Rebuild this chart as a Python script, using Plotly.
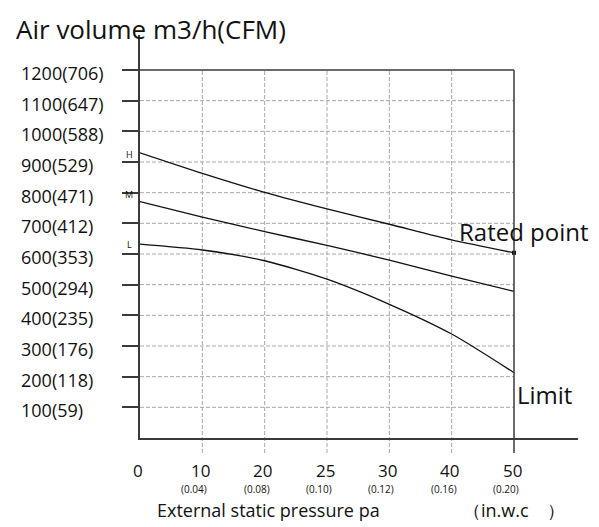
import plotly.graph_objects as go

# ---------------- data ----------------
pressure_pa = ["0", "10", "20", "25", "30", "40", "50"]
pressure_inwc = ["", "(0.04)", "(0.08)", "(0.10)", "(0.12)", "(0.16)", "(0.20)"]
airflow_ticks = [100, 200, 300, 400, 500, 600, 700, 800, 900, 1000, 1100, 1200]
airflow_labels = ["100(59)", "200(118)", "300(176)", "400(235)", "500(294)", "600(353)",
                  "700(412)", "800(471)", "900(529)", "1000(588)", "1100(647)", "1200(706)"]
curve_H = [930, 863, 801, 747, 697, 646, 604]
curve_M = [771, 720, 673, 628, 580, 528, 478]
curve_L = [632, 613, 578, 518, 436, 339, 213]
curve_names = ["H", "M", "L"]
rated_label = "Rated point"
limit_label = "Limit"
y_title = "Air volume m3/h(CFM)"
x_title = "External static pressure pa"
x_unit = "（in.w.c　）"

# ---------------- layout constants ----------------
W, H = 599, 527
ML, MR, MT, MB = 140, 21, 35, 89
PW, PH = W - ML - MR, H - MT - MB
FONT = "Open Sans, Noto Sans, sans-serif"
AXC = "#3a3a3a"
GRIDC = "#a8a8a8"
DASH = "4px,2px"

xs = list(range(len(pressure_pa)))
x_last = xs[-1]
y_top = airflow_ticks[-1]
x_max = x_last * PW / 374.0
y_max = y_top * PH / 368.0
ext = -15.0 / PH  # extension below x axis (paper)

fig = go.Figure()

curves = [curve_H, curve_M, curve_L]
for name, vals in zip(curve_names, curves):
    fig.add_trace(go.Scatter(x=xs, y=vals, mode="lines", name=name,
                             line=dict(color="#111111", width=1.3, shape="spline", smoothing=0.7),
                             showlegend=False, hoverinfo="skip"))

# rated point marker
fig.add_trace(go.Scatter(x=[xs[-1]], y=[curve_H[-1]], mode="markers",
                         marker=dict(color="#111111", size=4, symbol="square"),
                         showlegend=False, hoverinfo="skip"))

shapes = []
# horizontal dashed grid
for v in airflow_ticks[:-1]:
    shapes.append(dict(type="line", xref="x", yref="y", x0=0, x1=x_last, y0=v, y1=v,
                       line=dict(color=GRIDC, width=1, dash=DASH), layer="below"))
# top solid line
shapes.append(dict(type="line", xref="x", yref="y", x0=0, x1=x_last, y0=y_top, y1=y_top,
                   line=dict(color=AXC, width=1.5)))
# vertical dashed grid (extend below axis)
for x in xs[1:-1]:
    shapes.append(dict(type="line", xref="x", yref="paper", x0=x, x1=x, y0=ext, y1=y_top / y_max,
                       line=dict(color=GRIDC, width=1, dash=DASH), layer="below"))
# right solid line
shapes.append(dict(type="line", xref="x", yref="paper", x0=x_last, x1=x_last, y0=ext, y1=y_top / y_max,
                   line=dict(color=AXC, width=1.5)))

ann = []
# y tick labels (left aligned)
for v, lab in zip(airflow_ticks, airflow_labels):
    ann.append(dict(xref="paper", yref="y", x=-121.0 / PW, y=v, text=lab, showarrow=False,
                    xanchor="left", yanchor="middle", yshift=-3,
                    font=dict(family=FONT, size=18, color="#111")))
# x tick labels
for x, lab, sub in zip(xs, pressure_pa, pressure_inwc):
    ann.append(dict(xref="x", yref="paper", x=x, y=-(470 - 438) / PH, text=lab, showarrow=False,
                    xanchor="center", yanchor="middle", xshift=-2,
                    font=dict(family=FONT, size=17, color="#111")))
    if sub:
        ann.append(dict(xref="x", yref="paper", x=x, y=-(489 - 438) / PH, text=sub, showarrow=False,
                        xanchor="center", yanchor="middle", xshift=-8,
                        font=dict(family=FONT, size=10, color="#111")))
# curve labels
for name, vals, ys in zip(curve_names, curves, [-2, 7, 0]):
    ann.append(dict(xref="paper", yref="y", x=-11.0 / PW, y=vals[0], text=name, showarrow=False,
                    xanchor="center", yanchor="middle", yshift=ys,
                    font=dict(family=FONT, size=9, color="#111")))
# rated point & limit
ann.append(dict(xref="x", yref="y", x=xs[-1], y=curve_H[-1], text=rated_label, showarrow=False,
                xanchor="center", yanchor="middle", xshift=10, yshift=21,
                font=dict(family=FONT, size=24, color="#111")))
ann.append(dict(xref="x", yref="y", x=xs[-1], y=curve_L[-1], text=limit_label, showarrow=False,
                xanchor="left", yanchor="middle", xshift=1, yshift=-22,
                font=dict(family=FONT, size=24, color="#111")))
# titles
ann.append(dict(xref="paper", yref="paper", x=-126.0 / PW, y=(438 - 29) / PH, text=y_title,
                showarrow=False, xanchor="left", yanchor="middle",
                font=dict(family=FONT, size=26, color="#111")))
ann.append(dict(xref="paper", yref="paper", x=15.0 / PW, y=-(510 - 438) / PH, text=x_title,
                showarrow=False, xanchor="left", yanchor="middle",
                font=dict(family=FONT, size=18, color="#111")))
ann.append(dict(xref="paper", yref="paper", x=(461 - 140) / PW, y=-(510 - 438) / PH, text=x_unit,
                showarrow=False, xanchor="left", yanchor="middle",
                font=dict(family=FONT, size=18, color="#111")))

fig.update_layout(
    width=W, height=H, margin=dict(l=ML, r=MR, t=MT, b=MB),
    paper_bgcolor="white", plot_bgcolor="white",
    xaxis=dict(range=[0, x_max], showgrid=False, zeroline=False, showticklabels=False,
               ticks="", showline=True, linecolor=AXC, linewidth=1.5, fixedrange=True),
    yaxis=dict(range=[0, y_max], showgrid=False, zeroline=False, showticklabels=False,
               tickvals=airflow_ticks, ticks="outside", ticklen=16, tickwidth=1.5, tickcolor=AXC,
               showline=True, linecolor=AXC, linewidth=1.5, fixedrange=True),
    shapes=shapes, annotations=ann,
)

fig.write_html("out.html")
